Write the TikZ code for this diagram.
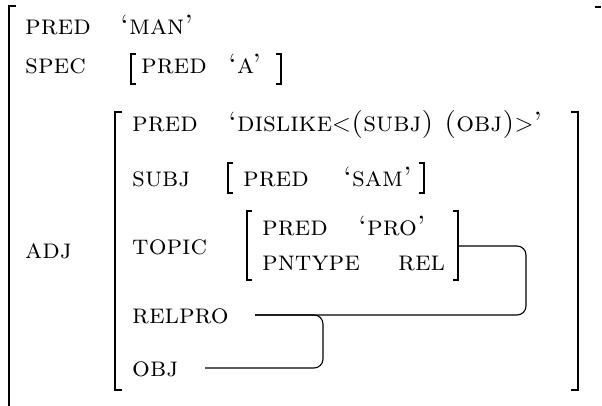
\documentclass[tikz,border=0pt]{standalone}
\begin{document}
\begin{tikzpicture}[x=1pt,y=-1pt,
  lbl/.style={anchor=base west, inner sep=0pt, font=\fontsize{28}{32}\selectfont\scshape},
  bigbr/.style={line width=1.8pt},
  smbr/.style={line width=1.1pt},
  link/.style={line width=1.1pt, rounded corners=9pt}]
\useasboundingbox (0,0) rectangle (602,406);
% outer bracket
\draw[bigbr] (16,6) -- (9,6) -- (9,406);
\draw[bigbr] (595,7) -- (601,7);
% outer rows
\node[lbl] (pred1) at (25,35) {pred};
\node[lbl] (man) at (120,35) {`man'};
\node[lbl] (spec) at (25,74) {spec};
\node[lbl] (specpred) at (141,74) {pred};
\node[lbl] (a) at (228,74) {`a'};
\draw[smbr] (136,54) -- (131,54) -- (131,84) -- (136,84);
\draw[smbr] (276,54) -- (281,54) -- (281,84) -- (276,84);
\node[lbl] (adj) at (25,258) {adj};
% inner bracket
\draw[bigbr] (122,112) -- (115,112) -- (115,390) -- (122,390);
\draw[bigbr] (571,112) -- (578,112) -- (578,390) -- (571,390);
\node[lbl] (pred2) at (132,132) {pred};
\node[lbl] (dislike) at (228,132) {`dislike$<$(subj)\ (obj)$>$'};
\node[lbl] (subj) at (132,186) {subj};
\draw[smbr] (233,163) -- (228,163) -- (228,193) -- (233,193);
\node[lbl] (subjpred) at (243,186) {pred};
\node[lbl] (sam) at (343,186) {`sam'};
\draw[smbr] (419,163) -- (424,163) -- (424,193) -- (419,193);
\node[lbl] (topic) at (132,254) {topic};
\draw[smbr] (252,211) -- (247,211) -- (247,280) -- (252,280);
\draw[smbr] (453,211) -- (458,211) -- (458,280) -- (453,280);
\coordinate (topR) at (458,246);
\node[lbl] (tpred) at (262,235) {pred};
\node[lbl] (pro) at (358,235) {`pro'};
\node[lbl] (pntype) at (262,270) {pntype};
\node[lbl] (rel) at (398,270) {rel};
\node[lbl] (relpro) at (132,323) {relpro};
\node[lbl] (obj) at (132,376) {obj};
\coordinate (relS) at (255,315);
\coordinate (objS) at (205,368);
\draw[link] (topR) -- (526,246) -- (526,315) -- (relS);
\draw[link] (relS) -- (323,315) -- (323,368) -- (objS);
\end{tikzpicture}
\end{document}
